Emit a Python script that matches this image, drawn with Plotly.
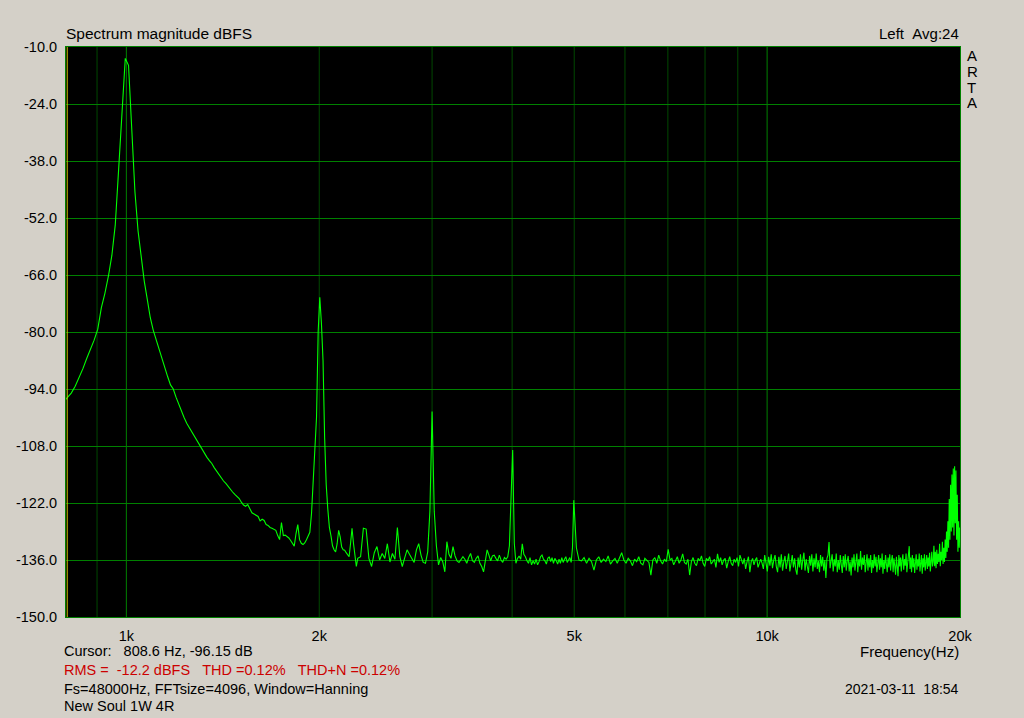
import math
import plotly.graph_objects as go

# ---------------- data (FFT bins, Fs=48000, N=4096) ----------------
FS = 48000
NFFT = 4096
BIN_HZ = FS / NFFT

# bins 68..195, every bin
seg_a_start, seg_a_step = 68, 1
seg_a_db = [
    -97.3, -96.15, -95.0, -93.3, -91.3, -89.0, -86.5, -84.3, -82.0, -79.3,
    -74.0, -70.5, -66.3, -61.2, -53.7, -40.0, -25.0, -12.8, -14.5, -31.5,
    -45.5, -55.2, -61.7, -67.5, -72.0, -76.5, -79.6, -82.0, -84.4, -86.7,
    -88.9, -91.0, -93.0, -94.0, -96.0, -97.8, -99.5, -101.0, -102.4, -103.5,
    -104.6, -105.9, -106.8, -107.8, -108.9, -110.0, -110.8, -111.6, -112.3, -113.3,
    -114.2, -115.0, -115.8, -116.6, -117.2, -118.0, -118.7, -119.3, -119.9, -120.4,
    -120.9, -121.8, -122.5, -122.8, -122.4, -123.4, -124.4, -124.7, -125.0, -125.3,
    -126.4, -126.0, -126.3, -127.3, -127.5, -128.0, -128.2, -128.4, -128.7, -130.0,
    -131.0, -126.8, -130.0, -129.9, -130.2, -130.6, -131.2, -132.0, -132.6, -129.5,
    -127.3, -131.0, -131.9, -132.2, -131.8, -131.0, -130.0, -129.2, -124.5, -117.0,
    -110.0, -101.0, -80.0, -71.5, -77.8, -87.0, -106.0, -117.5, -123.5, -128.0,
    -130.0, -132.5, -133.5, -134.0, -132.0, -128.7, -130.3, -132.8, -133.5, -133.6,
    -134.2, -134.8, -135.2, -131.9, -128.2, -131.9, -135.2, -137.6,
]

# bins 196..424, every 2nd bin
seg_b_start, seg_b_step = 196, 2
seg_b_db = [
    -135.6, -135.2, -128.2, -128.4, -135.6, -137.6, -134.2, -132.7, -136.0, -134.4,
    -135.6, -132.0, -136.5, -134.4, -135.8, -128.0, -135.2, -137.6, -135.5, -133.5,
    -134.6, -135.6, -136.6, -133.5, -132.0, -134.8, -136.6, -136.8, -134.0, -124.0,
    -99.5, -124.0, -132.5, -137.2, -135.4, -136.4, -138.9, -131.5, -134.6, -135.6,
    -132.7, -135.0, -136.2, -136.6, -135.8, -135.2, -135.8, -136.8, -135.4, -134.4,
    -136.2, -136.6, -135.6, -135.0, -136.8, -137.6, -138.9, -135.6, -133.5, -134.8,
    -136.2, -135.0, -134.8, -135.6, -136.2, -134.8, -136.0, -136.6, -135.4, -135.8,
    -135.2, -132.5, -122.0, -109.0, -131.9, -136.8, -135.6, -135.0, -135.8, -132.0,
    -134.6, -135.2, -136.2, -136.8, -135.4, -137.2, -136.2, -137.0, -135.8, -137.2,
    -136.4, -135.2, -134.8, -135.8, -136.2, -137.0, -135.6, -135.2, -136.4, -135.4,
    -136.8, -135.6, -136.2, -137.0, -135.8, -136.8, -135.4, -136.6, -135.8, -135.2,
    -136.6, -135.8, -135.4, -136.6, -133.0,
]

# bins 426..1710, every 4th bin
seg_c_start, seg_c_step = 426, 4
seg_c_db = [
    -121.3, -133.0, -136.0,
    -136.2, -135.4, -136.8, -135.6, -136.4, -138.5, -136.0, -135.2, -136.6, -135.8,
    -136.4, -135.0, -137.0, -136.2, -135.6, -136.8, -135.4, -134.2, -136.0, -136.8,
    -135.6, -136.2, -137.4, -135.8, -136.4, -135.2, -136.8, -137.2, -135.6, -136.0,
    -136.6, -139.7, -136.0, -135.4, -136.8, -134.8, -136.2, -137.0, -135.8, -136.4,
    -133.4, -136.0, -135.6, -137.2, -136.2, -135.2, -136.8, -136.0, -134.5, -136.6,
    -137.0, -135.8, -139.7, -136.4, -135.4, -136.8, -137.4, -135.6, -136.2, -135.0,
    -136.8, -137.6, -135.6, -136.2, -135.2, -137.0, -136.4, -135.8, -137.8, -134.5,
    -136.6, -135.4, -137.2, -136.0, -135.6, -138.0, -136.4, -135.2, -136.8, -137.4,
    -135.8, -136.6, -135.4, -137.6, -134.8, -136.2, -137.0, -135.6, -138.2, -136.4,
    -135.2, -139.0, -136.4, -135.6, -137.2, -136.0, -135.4, -137.8, -136.6, -135.8,
    -136.8, -138.2, -134.8, -137.0, -138.8, -135.2, -137.4, -134.6, -138.0, -136.0,
    -134.8, -137.6, -139.0, -135.2, -137.8, -134.6, -138.6, -136.4, -135.0, -138.2,
    -136.0, -134.4, -138.8, -136.6, -134.8, -137.8, -135.6, -138.4, -139.6, -135.4,
    -137.8, -134.6, -138.4, -136.0, -134.2, -138.6, -135.8, -137.6, -139.2, -135.0,
    -137.4, -134.6, -138.8, -135.6, -137.8, -134.4, -138.2, -136.2, -139.0, -134.8,
    -137.6, -135.2, -138.6, -136.0, -140.4, -135.6, -134.8, -131.6, -138.0, -136.2,
    -134.6, -138.8, -135.8, -137.6, -134.4, -139.0, -136.0, -138.4, -134.8, -137.2,
    -139.2, -135.0, -137.8, -134.6, -138.6, -136.2, -135.0, -138.8, -136.4, -139.8,
    -135.4, -137.8, -134.6, -138.6, -136.0, -134.4, -139.0, -135.8, -137.6, -133.8,
    -138.4, -135.4, -137.2, -134.8, -139.0, -136.2, -134.6, -138.6, -135.6, -137.8,
    -134.8, -139.2, -136.0, -138.0, -134.6, -137.6, -135.2, -139.0, -136.4, -134.8,
    -138.4, -135.6, -137.8, -134.4, -139.4, -136.0, -138.2, -134.8, -137.0, -139.0,
    -135.4, -137.8, -134.6, -138.6, -136.2, -134.8, -139.0, -135.6, -137.4, -139.6,
    -135.2, -138.0, -140.0, -134.8, -137.6, -135.4, -138.8, -136.0, -134.6, -138.4,
    -135.8, -137.4, -134.4, -139.0, -136.2, -134.8, -132.6, -138.2, -135.4, -139.0,
    -134.8, -137.8, -135.6, -139.2, -136.0, -134.6, -138.4, -135.8, -137.6, -134.4,
    -138.8, -136.2, -134.8, -139.4, -135.6, -137.8, -134.6, -138.6, -136.0, -134.8,
    -138.2, -135.4, -137.6, -134.2, -138.8, -135.6, -134.0, -137.6,
    -136.5, -132.5, -137.5, -134.0, -138.0, -133.5, -137.0, -134.5, -136.5, -132.0,
    -137.5, -134.0, -136.0, -131.5, -137.0, -133.0, -136.5, -131.0, -135.5, -129.0,
    -134.0, -126.5, -133.0, -121.0, -131.0, -117.5, -129.0, -115.0, -128.0, -113.5,
    -130.0, -113.0, -127.0, -114.0, -131.0, -120.0, -134.0, -126.5, -133.0, -128.0,
    -131.0,
]

segments = [
    (seg_a_start, seg_a_step, seg_a_db),
    (seg_b_start, seg_b_step, seg_b_db),
    (seg_c_start, seg_c_step, seg_c_db),
]
freq_hz, level_db = [], []
for start, step, vals in segments:
    for i, v in enumerate(vals):
        freq_hz.append((start + step * i) * BIN_HZ)
        level_db.append(v)

x_tick_vals = [1000, 2000, 5000, 10000, 20000]
x_tick_text = ["1k", "2k", "5k", "10k", "20k"]
x_minor_grid = [900, 2000, 3000, 4000, 5000, 6000, 7000, 8000, 9000]
x_major_grid = [1000, 10000]
y_tick_vals = [-10, -24, -38, -52, -66, -80, -94, -108, -122, -136, -150]
y_tick_text = ["%.1f" % v for v in y_tick_vals]
cursor_hz = 808.6

X_MIN, X_MAX = 805, 20000

# ---------------- figure ----------------
BG = "#d4d0c8"
GRID = "#008000"
GRID_MINOR = "#004800"
FONT = "Liberation Sans, Arial, sans-serif"

fig = go.Figure()
fig.add_trace(go.Scatter(
    x=freq_hz, y=level_db, mode="lines",
    line=dict(color="#00ff00", width=1.1),
    hoverinfo="skip", showlegend=False,
))

shapes = []
for f in x_minor_grid:
    shapes.append(dict(type="line", xref="x", yref="paper", x0=f, x1=f, y0=0, y1=1,
                       line=dict(color=GRID_MINOR, width=1), layer="below"))
for f in x_major_grid:
    shapes.append(dict(type="line", xref="x", yref="paper", x0=f, x1=f, y0=0, y1=1,
                       line=dict(color=GRID, width=1), layer="below"))
shapes.append(dict(type="line", xref="x", yref="paper", x0=cursor_hz, x1=cursor_hz, y0=0, y1=1,
                   line=dict(color="#c8c000", width=1), layer="above"))

L, R, T, B = 66, 960, 47, 617
W, H = 1024, 718


def px(xp):
    return (xp - L) / (R - L)


def py(yp):
    return (B - yp) / (B - T)


NB = "\u00a0"
ann = []


def text(s, x, y, xanchor="left", color="black", size=14):
    ann.append(dict(text=s.replace(" ", NB), x=px(x), y=py(y), xref="paper", yref="paper",
                    xanchor=xanchor, yanchor="middle", showarrow=False,
                    font=dict(family=FONT, size=size, color=color)))


text("Spectrum magnitude dBFS", 64, 34, size=15.5)
text("Left  Avg:24", 961, 34, "right", size=15)
for ch, yy in zip("ARTA", [55, 71, 87, 103]):
    text(ch, 965, yy, size=15)
text("Frequency(Hz)", 961, 651, "right", size=15)
text("Cursor:   808.6 Hz, -96.15 dB", 62, 651, size=14.5)
text("RMS =  -12.2 dBFS   THD =0.12%   THD+N =0.12%", 62, 670, color="#cc0000", size=14.5)
text("Fs=48000Hz, FFTsize=4096, Window=Hanning", 62, 689, size=14.5)
text("New Soul 1W 4R", 62, 706, size=14.5)
text("2021-03-11  18:54", 961, 689, "right", size=14)

fig.update_layout(
    width=W, height=H,
    margin=dict(l=L, r=W - R, t=T, b=H - B, pad=0),
    paper_bgcolor=BG, plot_bgcolor="black",
    shapes=shapes, annotations=ann,
    hovermode=False,
    font=dict(family=FONT, size=14, color="black"),
)
fig.update_xaxes(
    type="log", range=[math.log10(X_MIN), math.log10(X_MAX)],
    tickvals=x_tick_vals, ticktext=x_tick_text, ticks="",
    showgrid=False, zeroline=False,
    showline=True, mirror=True, linecolor=GRID, linewidth=1,
    tickfont=dict(family=FONT, size=14.5, color="black"),
    ticklabelstandoff=6,
)
fig.update_yaxes(
    range=[-150, -10], tickvals=y_tick_vals, ticktext=y_tick_text, ticks="",
    showgrid=True, gridcolor=GRID, gridwidth=1, zeroline=False,
    showline=True, mirror=True, linecolor=GRID, linewidth=1,
    tickfont=dict(family=FONT, size=14.5, color="black"),
    ticklabelstandoff=5,
)

fig.write_html(
    "out.html",
    config={"displayModeBar": False, "staticPlot": True},
    post_script="document.body.style.margin='0';document.body.style.background='%s';" % BG,
)
